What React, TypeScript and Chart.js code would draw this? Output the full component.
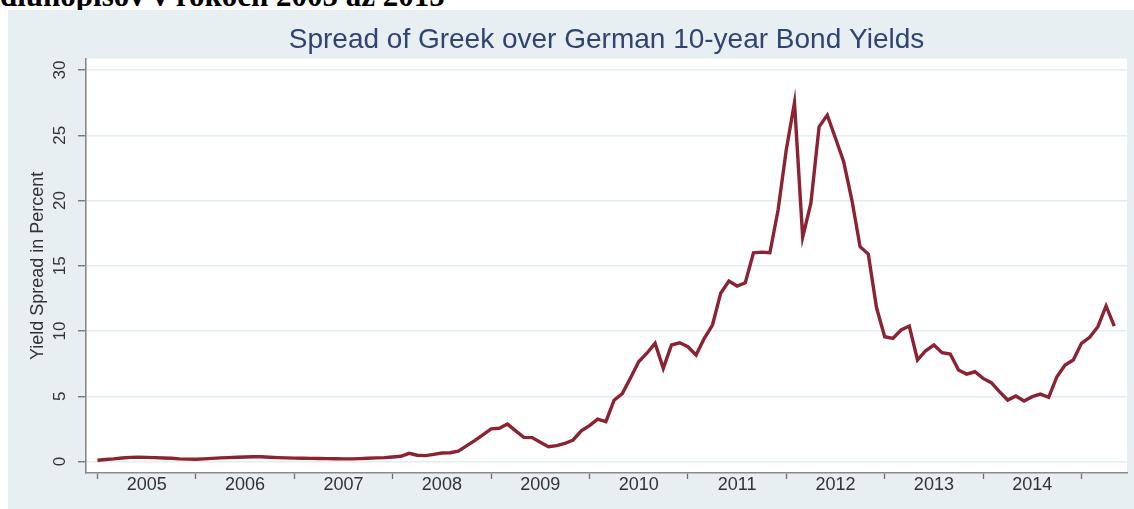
import { useEffect, useRef } from 'react';
import { Chart, registerables } from 'chart.js';

Chart.register(...registerables);

// ---- data (monthly, starting January 2005) ----
const yearLabels = ['2005', '2006', '2007', '2008', '2009', '2010', '2011', '2012', '2013', '2014'];

const spread2005 = [0.10, 0.15, 0.20, 0.27, 0.32, 0.33, 0.32, 0.30, 0.27, 0.25, 0.20, 0.18];
const spread2006 = [0.17, 0.20, 0.24, 0.28, 0.30, 0.33, 0.35, 0.37, 0.36, 0.33, 0.30, 0.28];
const spread2007 = [0.26, 0.25, 0.24, 0.23, 0.22, 0.21, 0.20, 0.20, 0.22, 0.25, 0.28, 0.30];
const spread2008 = [0.35, 0.40, 0.63, 0.48, 0.45, 0.55, 0.65, 0.67, 0.80, 1.20, 1.60, 2.05];
const spread2009 = [2.50, 2.55, 2.87, 2.35, 1.85, 1.83, 1.47, 1.13, 1.22, 1.38, 1.65, 2.35];
const spread2010 = [2.75, 3.25, 3.05, 4.70, 5.20, 6.40, 7.65, 8.30, 9.06, 7.14, 8.93, 9.10];
const spread2011 = [8.80, 8.16, 9.44, 10.46, 12.90, 13.83, 13.45, 13.70, 16.00, 16.05, 16.00, 19.27];
const spread2012 = [23.90, 27.50, 17.20, 19.80, 25.65, 26.55, 24.77, 22.97, 20.04, 16.46, 15.90, 11.80];
const spread2013 = [9.56, 9.44, 10.08, 10.38, 7.78, 8.49, 8.93, 8.34, 8.24, 7.01, 6.70, 6.88];
const spread2014 = [6.37, 6.04, 5.35, 4.71, 5.02, 4.64, 4.97, 5.17, 4.92, 6.50, 7.39, 7.78];
const spread2015 = [9.06, 9.52, 10.33, 11.92, 10.38];

const spreadMonthly = [
  ...spread2005, ...spread2006, ...spread2007, ...spread2008, ...spread2009,
  ...spread2010, ...spread2011, ...spread2012, ...spread2013, ...spread2014, ...spread2015,
];

const yTickValues = [0, 5, 10, 15, 20, 25, 30];

const titleText = 'Spread of Greek over German 10-year Bond Yields';
const yTitleText = 'Yield Spread in Percent';
const headingText = 'dluhopisov v rokoch 2005 až 2015';

// x ticks: year boundaries (tick marks) and mid-years (labels)
const xTickValues: number[] = [];
for (let i = 0; i <= yearLabels.length; i++) {
  xTickValues.push(i * 12);
  if (i < yearLabels.length) xTickValues.push(i * 12 + 6);
}

const FONT = '"Liberation Sans", Arial, sans-serif';

const plotBg = {
  id: 'plotBg',
  beforeDraw(chart: any) {
    const { ctx, chartArea: a } = chart;
    ctx.save();
    ctx.fillStyle = '#ffffff';
    ctx.fillRect(a.left, a.top, a.right - a.left, a.bottom - a.top);
    ctx.restore();
  },
};

export default function App() {
  const ref = useRef<HTMLCanvasElement>(null);

  useEffect(() => {
    const chart = new Chart(ref.current as HTMLCanvasElement, {
      type: 'line',
      data: {
        datasets: [
          {
            data: spreadMonthly.map((v, i) => ({ x: i, y: v })),
            borderColor: '#8b2332',
            borderWidth: 3.4,
            pointRadius: 0,
            tension: 0,
            fill: false,
          },
        ],
      },
      options: {
        responsive: false,
        animation: false,
        events: [],
        layout: { padding: { left: 0, right: 7, top: 0, bottom: 0 } },
        plugins: {
          legend: { display: false },
          tooltip: { enabled: false },
          title: {
            display: true,
            text: titleText,
            fullSize: false,
            color: '#2f4472',
            font: { family: FONT, size: 28, weight: 'normal' },
            padding: { top: 13, bottom: 2.1 },
          },
        },
        scales: {
          x: {
            type: 'linear',
            min: -1.4,
            max: 125.55,
            afterBuildTicks: (s: any) => {
              s.ticks = xTickValues.map((v) => ({ value: v }));
            },
            afterFit: (s: any) => {
              s.height = 36;
            },
            ticks: {
              autoSkip: false,
              minRotation: 0,
              maxRotation: 0,
              padding: -5,
              color: '#333333',
              font: { family: FONT, size: 18 },
              callback: (value: any) => {
                const v = Number(value);
                if ((v - 6) % 12 === 0) return yearLabels[(v - 6) / 12];
                return '';
              },
            },
            grid: {
              drawOnChartArea: false,
              tickLength: 6,
              tickWidth: 1.3,
              tickColor: (ctx: any) =>
                ctx.tick && ctx.tick.value % 12 === 0 ? '#6f6f6f' : 'rgba(0,0,0,0)',
            },
            border: { display: true, color: '#8a8a8a', width: 1.6 },
          },
          y: {
            type: 'linear',
            min: -0.88,
            max: 30.87,
            afterBuildTicks: (s: any) => {
              s.ticks = yTickValues.map((v) => ({ value: v }));
            },
            afterFit: (s: any) => {
              s.width = 78;
            },
            ticks: {
              minRotation: 90,
              maxRotation: 90,
              crossAlign: 'center',
              padding: 8,
              color: '#333333',
              font: { family: FONT, size: 17 },
            },
            grid: {
              color: '#e3eeee',
              lineWidth: 1.5,
              tickLength: 8,
              tickWidth: 1.3,
              tickColor: '#6f6f6f',
            },
            border: { display: true, color: '#8a8a8a', width: 1.6 },
            title: {
              display: true,
              text: yTitleText,
              color: '#333333',
              font: { family: FONT, size: 18 },
              padding: { top: 19, bottom: 0 },
            },
          },
        },
      },
      plugins: [plotBg],
    } as any);
    return () => chart.destroy();
  }, []);

  return (
    <div
      style={{
        position: 'fixed',
        left: 0,
        top: 0,
        width: 1134,
        height: 509,
        overflow: 'hidden',
        background: '#ffffff',
      }}
    >
      <div
        style={{
          position: 'absolute',
          left: 0,
          top: -19.5,
          font: 'bold 31px "Liberation Serif", "Times New Roman", serif',
          lineHeight: '30px',
          whiteSpace: 'nowrap',
          color: '#000000',
        }}
      >
        {headingText}
      </div>
      <div
        style={{
          position: 'absolute',
          left: 8,
          top: 10,
          width: 1126,
          height: 499,
          background: '#e8eff2',
        }}
      >
        <canvas
          ref={ref}
          width={1126}
          height={499}
          style={{ display: 'block', width: 1126, height: 499 }}
        />
      </div>
    </div>
  );
}
